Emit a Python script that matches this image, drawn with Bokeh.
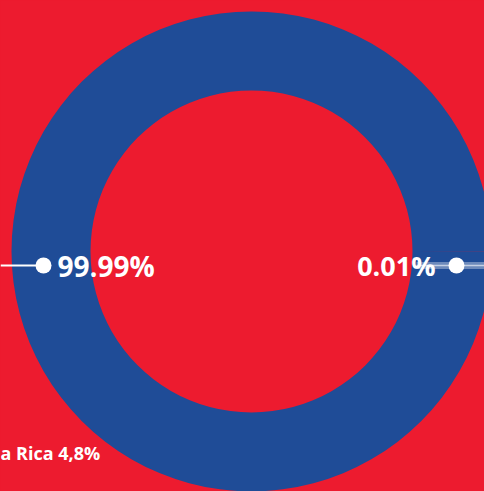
import numpy as np
from bokeh.plotting import figure
from bokeh.models import Range1d
from bokeh.core.properties import value
from bokeh.embed import file_html
from bokeh.resources import INLINE

# Data
labels = ["99.99%", "0.01%"]
shares = [99.99, 0.01]
side_note = "a Rica 4,8%"

W, H = 484, 491
RED = "#ED1B2F"
BLUE = "#1F4C97"

p = figure(width=W, height=H, output_backend="svg", toolbar_location=None,
           x_range=Range1d(0, W), y_range=Range1d(0, H),
           min_border=0, outline_line_color=None)
p.axis.visible = False
p.grid.visible = False
p.background_fill_color = RED
p.border_fill_color = RED

cx, cy = 251, H - 251
r_in, r_out = 161, 240

# donut from data
vals = np.array(shares, dtype=float)
frac = vals / vals.sum()
ends = np.cumsum(frac) * 2 * np.pi
starts = np.concatenate([[0.0], ends[:-1]])
p.annular_wedge(x=cx, y=cy, inner_radius=r_in, outer_radius=r_out,
                start_angle=starts, end_angle=ends,
                fill_color=[BLUE, BLUE], line_color=None)

# leader lines and dots
ly = H - 265
p.segment(x0=[0], y0=[ly], x1=[43], y1=[ly], line_color="white", line_width=2)
p.rect(x=[452], y=[ly], width=[72], height=[7], fill_color="white",
       fill_alpha=0.35, line_color=None)
p.segment(x0=[416], y0=[ly], x1=[484], y1=[ly], line_color="white",
          line_width=1.5, line_alpha=0.6)
p.scatter(x=[43, 456], y=[ly, ly], size=16, fill_color="white", line_color=None)

font = value("Open Sans")
p.text(x=[57], y=[ly], text=[labels[0]], text_font=font, text_font_style="bold",
       text_font_size="28px", text_color="white", text_baseline="middle",
       text_align="left")
p.text(x=[435], y=[ly], text=[labels[1]], text_font=font, text_font_style="bold",
       text_font_size="27px", text_color="white", text_baseline="middle",
       text_align="right")
p.text(x=[0], y=[H - 452], text=[side_note], text_font=font,
       text_font_style="bold", text_font_size="18px", text_color="white",
       text_baseline="middle", text_align="left")

html = file_html(p, INLINE)
html = html.replace("</head>", "<style>html,body{margin:0;padding:0;overflow:hidden;background:%s}</style></head>" % RED)
open("out.html", "w").write(html)
